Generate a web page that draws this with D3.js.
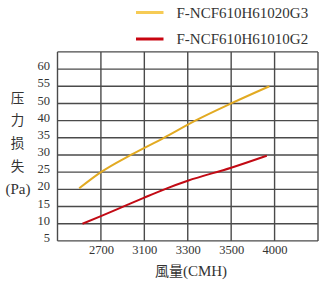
<!DOCTYPE html>
<html>
<head>
<meta charset="utf-8">
<script src="https://cdn.jsdelivr.net/npm/d3@7"></script>
<style>
  body { margin: 0; background: #fff; }
  svg { display: block; }
  .serif { font-family: "Liberation Serif", "DejaVu Serif", serif; }
  .cjk { font-family: "Noto Sans CJK SC", sans-serif; }
</style>
</head>
<body>
<svg id="chart" width="333" height="284"></svg>
<script>
// x axis break points (the axis is not uniform) and tick labels
const xBreaks = [2300, 2700, 3100, 3300, 3500, 4000, 4500];
const xTicks = [2700, 3100, 3300, 3500, 4000];
// y axis break points (note: no 45 on the original axis)
const yBreaks = [5, 10, 15, 20, 25, 30, 35, 40, 50, 55, 60, 65];
const yTicks = [5, 10, 15, 20, 25, 30, 35, 40, 50, 55, 60];

const seriesNames = ["F-NCF610H61020G3", "F-NCF610H61010G2"];
const seriesColors = ["#E2AA22", "#C20A14"];
const legendColors = ["#F6CB55", "#C80410"];

const g3Flow = [2500, 2700, 2975, 3190, 3335, 3500, 3940];
const g3Pa   = [20.3, 25, 30, 35, 40, 50, 55];
const g2Flow = [2530, 2700, 2937, 3100, 3204, 3300, 3500, 3910];
const g2Pa   = [10, 12.2, 15.4, 17.6, 20.3, 22.5, 26.3, 29.8];

const svg = d3.select("#chart");
const pL = 57.5, pR = 318, pT = 51.9, pB = 240.9;

const x = d3.scaleLinear()
  .domain(xBreaks)
  .range(xBreaks.map((d, i) => pL + i * (pR - pL) / (xBreaks.length - 1)));
const y = d3.scaleLinear()
  .domain(yBreaks)
  .range(yBreaks.map((d, i) => pB - i * (pB - pT) / (yBreaks.length - 1)));

const gridColor = "#4a4a4a";
// grid
const grid = svg.append("g");
grid.selectAll("line.v").data(xBreaks).join("line")
  .attr("class", "v")
  .attr("x1", d => x(d)).attr("x2", d => x(d))
  .attr("y1", pT).attr("y2", pB)
  .attr("stroke", gridColor).attr("stroke-width", 1.4);
grid.selectAll("line.h").data(yBreaks).join("line")
  .attr("class", "h")
  .attr("y1", d => y(d)).attr("y2", d => y(d))
  .attr("x1", pL).attr("x2", pR)
  .attr("stroke", gridColor).attr("stroke-width", 1.4);

// axes (labels only)
const yAxis = svg.append("g")
  .attr("transform", `translate(${pL},0)`)
  .call(d3.axisLeft(y).tickValues(yTicks).tickSize(0).tickPadding(7.5).tickFormat(d3.format("d")));
yAxis.select(".domain").remove();
yAxis.selectAll("text")
  .attr("class", "serif").attr("font-size", 12.5).attr("fill", "#333")
  .attr("dy", "0.05em");

const xAxis = svg.append("g")
  .attr("transform", `translate(0,${pB})`)
  .call(d3.axisBottom(x).tickValues(xTicks).tickSize(0).tickPadding(4).tickFormat(d3.format("d")));
xAxis.select(".domain").remove();
xAxis.selectAll("text")
  .attr("class", "serif").attr("font-size", 12.5).attr("fill", "#333");

// lines
const line = d3.line().x(d => x(d[0])).y(d => y(d[1])).curve(d3.curveMonotoneX);
const data = [
  g3Flow.map((f, i) => [f, g3Pa[i]]),
  g2Flow.map((f, i) => [f, g2Pa[i]])
];
svg.selectAll("path.series").data(data).join("path")
  .attr("class", "series")
  .attr("d", line)
  .attr("fill", "none")
  .attr("stroke", (d, i) => seriesColors[i])
  .attr("stroke-width", 2);

// legend
const leg = svg.append("g");
const legY = [12.5, 39];
seriesNames.forEach((name, i) => {
  leg.append("line")
    .attr("x1", 136).attr("x2", 163.5)
    .attr("y1", legY[i]).attr("y2", legY[i])
    .attr("stroke", legendColors[i]).attr("stroke-width", 3);
  leg.append("text")
    .attr("class", "serif")
    .attr("x", 176.5).attr("y", legY[i] + 5.2)
    .attr("font-size", 15).attr("fill", "#333")
    .text(name);
});

// y title (vertical stack)
const yTitle = ["压", "力", "损", "失"];
yTitle.forEach((c, i) => {
  svg.append("text").attr("class", "cjk")
    .attr("x", 17.5).attr("y", 98 + i * 22.6)
    .attr("dy", "0.36em").attr("text-anchor", "middle")
    .attr("font-size", 13.5).attr("fill", "#333")
    .text(c);
});
svg.append("text").attr("class", "serif")
  .attr("x", 18).attr("y", 188.5)
  .attr("dy", "0.34em").attr("text-anchor", "middle")
  .attr("font-size", 15).attr("fill", "#333")
  .text("(Pa)");

// x title
const xt = svg.append("text")
  .attr("x", 191).attr("y", 275.5)
  .attr("text-anchor", "middle").attr("fill", "#333");
xt.append("tspan").attr("class", "cjk").attr("font-size", 14).text("風量");
xt.append("tspan").attr("class", "serif").attr("font-size", 15).text("(CMH)");
</script>
</body>
</html>
